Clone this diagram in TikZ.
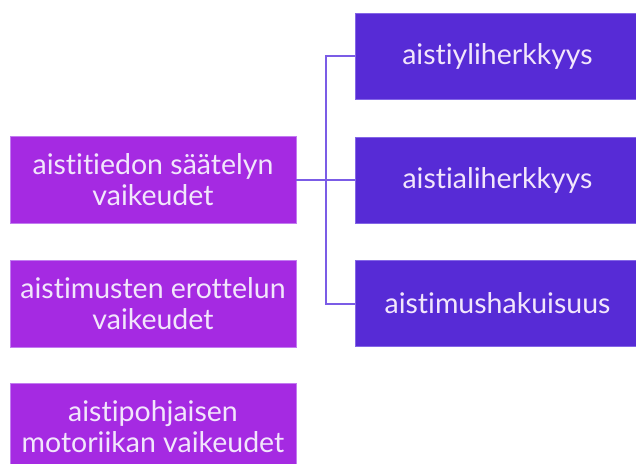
\documentclass[tikz,border=0pt]{standalone}
\usepackage{fontspec}
\setmainfont{Lato}[Ligatures=NoCommon]
\definecolor{lbox}{HTML}{A52AE2}
\definecolor{lboxb}{HTML}{C27CF0}
\definecolor{rbox}{HTML}{572BD6}
\definecolor{rboxb}{HTML}{8466E6}
\definecolor{conn}{HTML}{7B5CE6}
\definecolor{txt}{HTML}{F2E6FC}
\begin{document}
\begin{tikzpicture}[x=1pt,y=-1pt,
  base/.style={rectangle, inner sep=0pt, text=txt, align=center,
    font=\fontsize{28.5}{31}\selectfont, line width=0.8pt},
  leftbox/.style={base, fill=lbox, draw=lboxb, minimum width=286pt, minimum height=87pt},
  rightbox/.style={base, fill=rbox, draw=rboxb, minimum width=285pt, minimum height=86pt},
  connector/.style={draw=conn, line width=2pt}]
\useasboundingbox (0,0) rectangle (636,463);
\clip (0,0) rectangle (636,463);
\node[leftbox] (l1) at (153,180) {aistitiedon säätelyn\\vaikeudet};
\node[leftbox] (l2) at (153,303.5) {aistimusten erottelun\\vaikeudet};
\node[leftbox] (l3) at (153,426.5) {aistipohjaisen\\motoriikan vaikeudet};
\node[rightbox] (r1) at (497.5,56) {aistiyliherkkyys};
\node[rightbox] (r2) at (497.5,180) {aistialiherkkyys};
\node[rightbox] (r3) at (497.5,303.5) {aistimushakuisuus};
\coordinate (j) at (326,180);
\draw[connector] (l1.east) -- (j);
\draw[connector] (j) -- (r2.west);
\draw[connector] (j) |- (r1.west);
\draw[connector] (j) |- (r3.west);
\end{tikzpicture}
\end{document}
